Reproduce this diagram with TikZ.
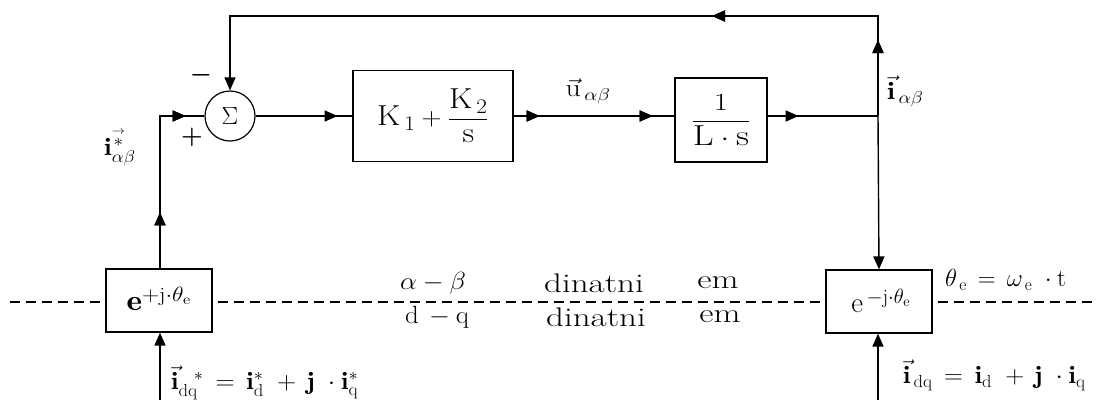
\documentclass[tikz,border=0pt]{standalone}
\usepackage{amsmath,amssymb,bm}
\usepackage{fontspec}
\usetikzlibrary{arrows.meta,decorations.markings}
\tikzset{
  tip/.tip={Triangle[length=13bp,width=11bp]},
  blk/.style={draw,line width=1.2bp,fill=white,inner sep=0pt},
  wire/.style={line width=1.4bp},
  arrat/.style={postaction={decorate},decoration={markings,mark=at position #1 with {\arrow{tip}}}},
  lbl/.style={inner sep=0pt,font=\fontsize{25}{29}\selectfont},
  wordlbl/.style={inner sep=0pt,font=\fontsize{27}{31}\selectfont,xscale=1.3},
  big/.style={inner sep=0pt,font=\fontsize{29}{33}\selectfont},
  sgn/.style={inner sep=0pt,font=\fontsize{32}{32}\selectfont\boldmath},
}
\begin{document}
\begin{tikzpicture}[x=1bp,y=-1bp]
\useasboundingbox (0,0) rectangle (1098,408);
% dashed separation line
\draw[line width=1.2bp,dash pattern=on 10bp off 6bp] (10,302) -- (1098,302);
% blocks
\node[blk,minimum width=106bp,minimum height=63bp] (ep) at (159,300.5) {};
\node[big,xscale=1.15] (ept) at (159,299) {$\mathbf{e}^{+\mathrm{j}\cdot\theta_{\mathrm{e}}}$};
\node[blk,minimum width=106bp,minimum height=63bp] (em) at (879,301.5) {};
\node[big] (emt) at (881,301) {$\mathrm{e}^{\,-\mathrm{j}\cdot\theta_{\mathrm{e}}}$};
\node[blk,minimum width=160bp,minimum height=91bp] (pi) at (433,116) {};
\node[big,xscale=1.12] (pit) at (433,116) {$\mathrm{K}_{\,1}+\dfrac{\mathrm{K}_{\,2}}{\mathrm{s}}$};
\node[blk,minimum width=92bp,minimum height=84bp] (pl) at (721,120) {};
\node[big,xscale=1.25] (plt) at (721,120) {$\dfrac{1}{\mathrm{L}\cdot\mathrm{s}}$};
\node[draw,circle,line width=1.2bp,minimum size=50bp,inner sep=0pt,lbl] (sum) at (230,116) {$\Sigma$};
% coordinates
\coordinate (j) at (878,116);
\coordinate (tr) at (878,16);
\coordinate (tl) at (230,16);
\coordinate (ic) at (160,116);
\coordinate (inl) at (160,400);
\coordinate (inr) at (878,400);
% connectors
\draw[wire,arrat=76bp,arrat=266bp,-{tip}] (j) -- (tr) -- (tl) -- (sum.north);
\draw[wire,-{tip}] (j) -- (em.north);
\draw[wire,arrat=56bp,arrat=178bp] (ep.north -| ic) -- (ic) -- (sum.west);
\draw[wire,arrat=82bp] (sum.east) -- (pi.west);
\draw[wire,arrat=26bp,arrat=139bp] (pi.east) -- (pi.east -| pl.west);
\draw[wire,arrat=31bp] (pl.east |- j) -- (j);
\draw[wire,-{tip}] (inl) -- (ep.south -| inl);
\draw[wire,-{tip}] (inr) -- (em.south -| inr);
% signs
\node[sgn] (minus) at (201,75) {$-$};
\node[sgn] (plus) at (192,137) {$+$};
% labels
\node[lbl,xscale=1.1] (lia) at (120,147) {$\mathbf{i}^{\overset{\rightarrow}{*}}_{\alpha\beta}$};
\node[lbl,xscale=1.2] (lu) at (588,91) {$\vec{\mathrm{u}}_{\,\alpha\beta}$};
\node[lbl,anchor=west,xscale=1.15] (li) at (887,91) {$\vec{\mathbf{i}}_{\,\alpha\beta}$};
\node[lbl,xscale=1.08] (ab) at (433,283) {$\alpha-\beta$};
\node[lbl,xscale=1.08] (dq) at (437,317) {$\mathrm{d}\,-\mathrm{q}$};
\node[wordlbl] (d1) at (594,283) {dinatni};
\node[wordlbl] (d2) at (596,317) {dinatni};
\node[wordlbl] (e1) at (718,283) {em};
\node[wordlbl] (e2) at (720,317) {em};
\node[lbl,anchor=west] (th) at (945,280) {$\theta_{\,\mathrm{e}}\,=\,\omega_{\,\mathrm{e}}\;\cdot\mathrm{t}$};
\node[lbl,anchor=west,xscale=1.06] (idq) at (903,375) {$\vec{\mathbf{i}}_{\,\mathrm{dq}}\,=\,\mathbf{i}_{\mathrm{d}}\;+\,\mathbf{j}\;\cdot\mathbf{i}_{\mathrm{q}}$};
\node[lbl,anchor=west,xscale=1.07] (idqs) at (171,383) {$\vec{\mathbf{i}}_{\mathrm{dq}}^{\;\;\;*}\,=\,\mathbf{i}_{\mathrm{d}}^{*}\;+\,\mathbf{j}\;\cdot\mathbf{i}_{\mathrm{q}}^{*}$};
\end{tikzpicture}
\end{document}
